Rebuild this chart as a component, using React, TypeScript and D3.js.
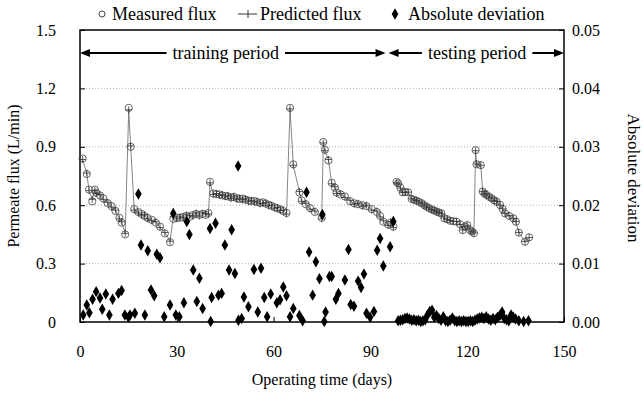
import { useEffect, useRef } from "react";
import * as d3 from "d3";

// operating time (days) and flux (L/min), training period
const trainDays = [
  0.8, 2.1, 2.8, 3.8, 4.6, 5.0, 6.2, 7.2, 8.6, 9.8, 11.0, 12.2, 12.9, 14.0,
  15.1, 15.7, 16.8, 18.1, 19.1, 20.0, 20.9, 22.2, 23.5, 24.8, 26.3, 27.9,
  28.9, 30, 31, 32, 33, 34, 35, 36, 37, 38, 39, 39.8,
  40.3, 41.3, 42.3, 43.2, 44.1, 45, 45.9, 46.8, 47.7, 48.6, 49.5, 50.4, 51.3, 52.2, 53.1, 54, 54.9, 55.8, 56.7, 57.6, 58.5, 59.4, 60.3, 61.2, 62.1, 63, 64,
  65.1, 66.1, 68, 68.7, 70, 71.3, 72.8, 74.9,
  75.4, 75.9, 77, 78, 79, 79.5, 80.8, 82.1, 83.7, 85, 86.2, 87.5, 88.8, 90.4, 92, 93, 94, 95.5, 96.3, 97.1,
];
const trainMeasured = [
  0.84, 0.76, 0.68, 0.62, 0.68, 0.665, 0.65, 0.635, 0.61, 0.595, 0.57, 0.535, 0.51, 0.45,
  1.1, 0.9, 0.58, 0.565, 0.555, 0.545, 0.535, 0.525, 0.51, 0.49, 0.455, 0.41,
  0.53, 0.535, 0.535, 0.54, 0.545, 0.54, 0.55, 0.555, 0.55, 0.555, 0.55, 0.56,
  0.72, 0.66, 0.657, 0.655, 0.65, 0.648, 0.645, 0.64, 0.642, 0.636, 0.632, 0.634, 0.628, 0.624, 0.62, 0.622, 0.616, 0.612, 0.615, 0.608, 0.602, 0.596, 0.59, 0.584, 0.578, 0.57, 0.56,
  1.1, 0.81, 0.665, 0.625, 0.605, 0.585, 0.565, 0.535,
  0.925, 0.885, 0.83, 0.715, 0.69, 0.665, 0.655, 0.645, 0.62, 0.61, 0.605, 0.6, 0.595, 0.58, 0.565, 0.545, 0.515, 0.5, 0.51, 0.49,
];
const trainPredicted = [
  0.835, 0.765, 0.675, 0.63, 0.675, 0.66, 0.655, 0.63, 0.615, 0.59, 0.575, 0.53, 0.515, 0.455,
  1.09, 0.905, 0.575, 0.56, 0.55, 0.55, 0.53, 0.52, 0.515, 0.485, 0.46, 0.415,
  0.54, 0.53, 0.54, 0.535, 0.55, 0.545, 0.545, 0.56, 0.545, 0.56, 0.555, 0.555,
  0.715, 0.655, 0.66, 0.65, 0.655, 0.643, 0.65, 0.635, 0.647, 0.63, 0.637, 0.628, 0.633, 0.62, 0.625, 0.616, 0.621, 0.607, 0.61, 0.613, 0.597, 0.6, 0.585, 0.588, 0.573, 0.575, 0.555,
  1.095, 0.805, 0.67, 0.62, 0.61, 0.58, 0.57, 0.53,
  0.92, 0.88, 0.835, 0.71, 0.695, 0.66, 0.66, 0.64, 0.625, 0.605, 0.61, 0.595, 0.6, 0.575, 0.57, 0.54, 0.52, 0.495, 0.515, 0.485,
];

// testing period
const testDays = [
  98.1, 98.6, 99.3, 100, 100.8, 101.7, 102.8, 103.5, 104.3, 105.1, 105.9, 106.7, 107.4, 108.2, 109, 109.8, 110.5, 111.3, 112, 112.9, 113.8, 114.7, 115.7, 116.7, 117.8, 118.6, 119.3, 120, 120.9, 121.5, 122.1,
  122.6, 122.9, 124.2, 124.8, 125.4, 126, 126.8, 127.6, 128.4, 129.1, 130.2, 131, 131.7, 133, 134.3, 135.1, 136, 137.9, 139.2,
];
const testMeasured = [
  0.72, 0.712, 0.69, 0.666, 0.668, 0.666, 0.632, 0.628, 0.623, 0.617, 0.61, 0.6, 0.592, 0.585, 0.579, 0.572, 0.567, 0.562, 0.558, 0.533, 0.528, 0.52, 0.518, 0.515, 0.502, 0.472, 0.49, 0.498, 0.472, 0.465, 0.456,
  0.883, 0.81, 0.806, 0.67, 0.66, 0.652, 0.643, 0.635, 0.625, 0.618, 0.601, 0.58, 0.558, 0.545, 0.533, 0.515, 0.459, 0.412, 0.435,
];
const testPredicted = [
  0.715, 0.71, 0.688, 0.665, 0.667, 0.667, 0.633, 0.627, 0.624, 0.616, 0.61, 0.601, 0.591, 0.586, 0.578, 0.573, 0.566, 0.563, 0.557, 0.534, 0.527, 0.521, 0.517, 0.516, 0.501, 0.473, 0.489, 0.497, 0.473, 0.464, 0.457,
  0.88, 0.812, 0.805, 0.671, 0.659, 0.653, 0.642, 0.636, 0.624, 0.619, 0.6, 0.581, 0.557, 0.546, 0.532, 0.516, 0.46, 0.413, 0.434,
];

// absolute deviation (right axis)
const devDays = [
  1.0, 2.1, 2.9, 3.9, 5.0, 6.2, 6.9, 8.0, 9.1, 10.1, 11.9, 12.9, 13.9, 15.0, 15.5, 17.0, 18.1, 18.9, 20.1, 21.0,
  22.0, 23.0, 23.8, 24.8, 26.1, 27.9, 28.9, 29.7, 30.8, 32.2, 33.1, 33.9, 35.1, 36.2, 37.0, 38.0, 40.3, 40.5, 40.8, 42.0,
  42.9, 43.9, 44.9, 46.2, 47.0, 48.0, 49.0, 49.1, 50.1, 50.8, 52.2, 53.9, 55.1, 56.1, 57.1, 58.0, 59.1, 61.0, 62.0, 63.0,
  64.0, 65.1, 66.1, 68.0, 69.0, 70.2, 71.0, 72.1, 73.1, 74.2, 75.1, 75.7, 76.1, 77.3, 78.0, 79.3, 80.1, 82.1, 83.2, 83.9,
  84.9, 86.2, 87.1, 88.0, 88.8, 89.9, 91.1, 92.1, 93.0, 94.0, 96.1, 97.1,
  98.6, 99.3, 100, 100.7, 101.4, 102.1, 102.8, 103.5, 104.2, 104.9, 105.6, 106.3, 107, 107.7, 108.4, 109.1, 109.8, 110.5,
  111.2, 111.9, 112.6, 113.3, 114, 114.7, 115.4, 116.1, 116.8, 117.5, 118.2, 118.9, 119.6, 120.3, 121, 121.7, 122.4, 123.1,
  123.8, 124.5, 125.2, 125.9, 126.6, 127.3, 128, 128.7, 129.4, 130.1, 130.8, 131.5, 132.2, 132.9, 133.6, 134.3, 135, 136,
  137.5, 139,
];
const devValues = [
  0.0012, 0.0029, 0.0016, 0.0039, 0.0052, 0.0041, 0.0022, 0.0048, 0.0012, 0.0039, 0.0049, 0.0054, 0.0012, 0.0008, 0.0012, 0.0015, 0.0219, 0.0132, 0.0012, 0.0122,
  0.0055, 0.0045, 0.0116, 0.011, 0.0009, 0.0029, 0.0186, 0.0012, 0.0009, 0.0033, 0.0172, 0.015, 0.0089, 0.0035, 0.0075, 0.0023, 0.016, 0.0001, 0.0042, 0.0169,
  0.0046, 0.0049, 0.0132, 0.0089, 0.0158, 0.0083, 0.0267, 0.0003, 0.0006, 0.0043, 0.0026, 0.009, 0.0017, 0.0092, 0.0042, 0.0009, 0.0048, 0.0033, 0.0038, 0.006,
  0.0045, 0.0009, 0.0023, 0.0011, 0.0002, 0.0222, 0.012, 0.0046, 0.0103, 0.0074, 0.0184, 0.0001, 0.0017, 0.0078, 0.0078, 0.0039, 0.0049, 0.0072, 0.0124, 0.003,
  0.0027, 0.007, 0.0059, 0.0082, 0.0015, 0.0008, 0.0018, 0.0123, 0.0143, 0.0096, 0.0129, 0.0172,
  0.0002, 0.0003, 0.0004, 0.0006, 0.0007, 0.0005, 0.0003, 0.0004, 0.0002, 0.0003, 0.0001, 0.0002, 0.0004, 0.0012, 0.0018, 0.002, 0.0008, 0.0011,
  0.0006, 0.0003, 0.0009, 0.0002, 0.0001, 0.0003, 0.0007, 0.0002, 0.0001, 0.0002, 0.0001, 0.0002, 0.0001, 0.0001, 0.0002, 0.0001, 0.0003, 0.0005,
  0.0007, 0.0008, 0.0006, 0.0009, 0.0005, 0.0003, 0.0006, 0.0004, 0.0008, 0.0011, 0.0017, 0.0006, 0.0004, 0.0002, 0.0012, 0.0008, 0.0005, 0.0002,
  0.0001, 0.0002,
];

const xTicks = [0, 30, 60, 90, 120, 150];
const yTicks = [0, 0.3, 0.6, 0.9, 1.2, 1.5];
const y2Ticks = [0, 0.01, 0.02, 0.03, 0.04, 0.05];
const periodNames = ["training period", "testing period"];
const periodBounds = [0, 95, 150];

const FONT = "'Liberation Serif', 'Times New Roman', serif";

export default function App() {
  const ref = useRef<SVGSVGElement>(null);

  useEffect(() => {
    const width = 643;
    const height = 394;
    const svg = d3.select(ref.current).attr("width", width).attr("height", height);
    svg.selectAll("*").remove();

    const margin = { top: 30, right: 79, bottom: 72, left: 80 };
    const x = d3.scaleLinear().domain([0, 150]).range([margin.left, width - margin.right]);
    const y = d3.scaleLinear().domain([0, 1.5]).range([height - margin.bottom, margin.top]);
    const y2 = d3.scaleLinear().domain([0, 0.05]).range([height - margin.bottom, margin.top]);

    svg.append("rect").attr("width", width).attr("height", height).attr("fill", "white");

    // gridlines
    svg
      .append("g")
      .selectAll("line")
      .data(yTicks.slice(1, -1))
      .enter()
      .append("line")
      .attr("x1", x(0))
      .attr("x2", x(150))
      .attr("y1", (d) => y(d))
      .attr("y2", (d) => y(d))
      .attr("stroke", "#999")
      .attr("stroke-width", 0.8)
      .attr("stroke-dasharray", "1,2");

    // axes
    const styleAxis = (g: d3.Selection<SVGGElement, unknown, null, undefined>) => {
      g.select(".domain").remove();
      g.selectAll(".tick line").attr("stroke", "#000").attr("stroke-width", 1);
      g.selectAll(".tick text").attr("font-family", FONT).attr("font-size", 16).attr("fill", "#000");
    };
    svg
      .append("g")
      .attr("transform", `translate(${x(0)},0)`)
      .call(
        d3.axisLeft(y).tickValues(yTicks).tickSize(-5).tickPadding(24)
          .tickFormat((d) => (+d === 0 ? "0" : (+d).toFixed(1)))
      )
      .call(styleAxis);
    svg
      .append("g")
      .attr("transform", `translate(${x(150)},0)`)
      .call(d3.axisRight(y2).tickValues(y2Ticks).tickSize(-5).tickPadding(8).tickFormat((d) => (+d).toFixed(2)))
      .call(styleAxis);
    svg
      .append("g")
      .attr("transform", `translate(0,${y(0)})`)
      .call(d3.axisBottom(x).tickValues(xTicks).tickSize(-5).tickPadding(24).tickFormat((d) => `${d}`))
      .call(styleAxis);

    // frame
    svg
      .append("rect")
      .attr("x", x(0))
      .attr("y", y(1.5))
      .attr("width", x(150) - x(0))
      .attr("height", y(0) - y(1.5))
      .attr("fill", "none")
      .attr("stroke", "#000")
      .attr("stroke-width", 1.5);

    // measured circles, predicted crosses joined by a thin line
    const drawSeries = (days: number[], meas: number[], pred: number[]) => {
      const ln = d3
        .line<number>()
        .x((_, i) => x(days[i]))
        .y((d) => y(d));
      svg
        .append("path")
        .attr("d", ln(pred))
        .attr("fill", "none")
        .attr("stroke", "#666")
        .attr("stroke-width", 0.8);
      svg
        .append("g")
        .selectAll("circle")
        .data(meas)
        .enter()
        .append("circle")
        .attr("cx", (_, i) => x(days[i]))
        .attr("cy", (d) => y(d))
        .attr("r", 3.6)
        .attr("fill", "none")
        .attr("stroke", "#444")
        .attr("stroke-width", 0.8);
      svg
        .append("g")
        .selectAll("path")
        .data(pred)
        .enter()
        .append("path")
        .attr("d", (d, i) => {
          const cx = x(days[i]);
          const cy = y(d);
          return `M${cx - 3.5},${cy}H${cx + 3.5}M${cx},${cy - 3.5}V${cy + 3.5}`;
        })
        .attr("stroke", "#333")
        .attr("stroke-width", 0.8);
    };
    drawSeries(trainDays, trainMeasured, trainPredicted);
    drawSeries(testDays, testMeasured, testPredicted);

    // absolute deviation
    const diamond = d3.symbol().type(d3.symbolDiamond).size(38);
    svg
      .append("g")
      .selectAll("path")
      .data(devValues)
      .enter()
      .append("path")
      .attr("d", diamond)
      .attr("transform", (d, i) => `translate(${x(devDays[i])},${y2(d)})`)
      .attr("fill", "#000");

    // period annotations
    const ay = 53;
    const textPos = [0.477, 0.505];
    const arrowHead = (tip: number, dir: number) =>
      `M${tip},${ay}L${tip + dir * 10},${ay - 4}L${tip + dir * 10},${ay + 4}Z`;
    periodNames.forEach((name, k) => {
      const x0 = x(periodBounds[k]) + (k === 0 ? 0 : 2);
      const x1 = x(periodBounds[k + 1]) - (k === 0 ? 1 : 0);
      const cx = x0 + (x1 - x0) * textPos[k];
      const t = svg
        .append("text")
        .attr("x", cx)
        .attr("y", ay + 6)
        .attr("text-anchor", "middle")
        .attr("font-family", FONT)
        .attr("font-size", 18)
        .text(name);
      const w = (t.node() as SVGTextElement).getComputedTextLength();
      const gap = 6;
      svg.append("line").attr("x1", x0 + 4).attr("x2", cx - w / 2 - gap).attr("y1", ay).attr("y2", ay)
        .attr("stroke", "#000").attr("stroke-width", 2);
      svg.append("line").attr("x1", cx + w / 2 + gap).attr("x2", x1 - 4).attr("y1", ay).attr("y2", ay)
        .attr("stroke", "#000").attr("stroke-width", 2);
      svg.append("path").attr("d", arrowHead(x0, 1)).attr("fill", "#000");
      svg.append("path").attr("d", arrowHead(x1, -1)).attr("fill", "#000");
    });

    // axis titles
    svg
      .append("text")
      .attr("transform", `translate(19,${(y(0) + y(1.5)) / 2}) rotate(-90)`)
      .attr("text-anchor", "middle")
      .attr("font-family", FONT)
      .attr("font-size", 16)
      .text("Permeate flux (L/min)");
    svg
      .append("text")
      .attr("transform", `translate(628,${(y(0) + y(1.5)) / 2 + 2}) rotate(90)`)
      .attr("text-anchor", "middle")
      .attr("font-family", FONT)
      .attr("font-size", 17)
      .text("Absolute deviation");
    svg
      .append("text")
      .attr("x", (x(0) + x(150)) / 2)
      .attr("y", 385)
      .attr("text-anchor", "middle")
      .attr("font-family", FONT)
      .attr("font-size", 16)
      .text("Operating time (days)");

    // legend
    const ly = 14;
    const lg = svg.append("g").attr("font-family", FONT).attr("font-size", 18);
    lg.append("circle").attr("cx", 102).attr("cy", ly).attr("r", 3).attr("fill", "none").attr("stroke", "#444");
    lg.append("text").attr("x", 112).attr("y", ly + 6).text("Measured flux");
    lg.append("path").attr("d", `M238,${ly}H257M248,${ly - 4}V${ly + 4}`).attr("stroke", "#333").attr("stroke-width", 1);
    lg.append("text").attr("x", 260).attr("y", ly + 6).text("Predicted flux");
    lg.append("path").attr("d", diamond).attr("transform", `translate(395,${ly})`).attr("fill", "#000");
    lg.append("text").attr("x", 408).attr("y", ly + 6).text("Absolute deviation");
  }, []);

  return <svg ref={ref} style={{ position: "absolute", left: 0, top: 0 }} />;
}
